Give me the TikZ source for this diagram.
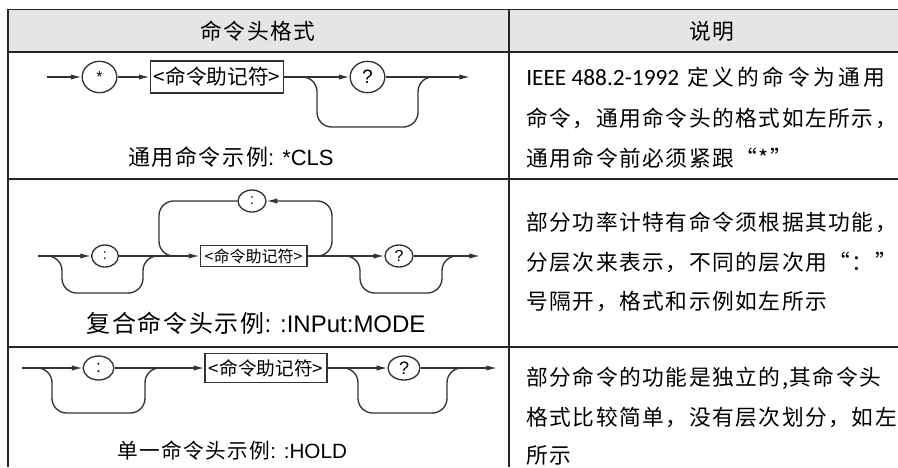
\documentclass[tikz,border=0pt]{standalone}
\usepackage{fontspec}
\setmainfont{Liberation Sans}
\newfontfamily\cjk{Noto Sans CJK SC}
\newfontfamily\cjkw[LetterSpace=7]{Noto Sans CJK SC}
\newfontfamily\carlito{Carlito}
\usetikzlibrary{arrows.meta,shapes.geometric}
\tikzset{
  rule/.style={draw=black!85, line width=1.1pt},
  wire/.style={draw=black!80, line width=1pt},
  flow/.style={wire, -{Latex[length=8pt,width=4pt]}},
  bypass/.style={wire, rounded corners=11pt},
  syn/.style={ellipse, draw=black!80, line width=1pt, inner sep=0pt},
  mnem/.style={rectangle, draw=black!80, line width=1pt, inner sep=1pt},
  head/.style={inner sep=0.75pt, font=\cjkw\fontsize{16.3}{18}\selectfont},
  desc/.style={anchor=west, inner sep=0.75pt, font=\cjkw\fontsize{16.3}{18}\selectfont},
}
\begin{document}
\begin{tikzpicture}[x=0.75pt,y=0.75pt,yscale=-1,xscale=1]
\useasboundingbox (0,0) rectangle (898,467);
\fill[black!10] (8,9.5) rectangle (898,52);
\draw[rule] (8,9.5) -- (898,9.5);
\draw[rule] (8,52) -- (898,52);
\draw[rule] (8,179) -- (898,179);
\draw[rule] (8,347) -- (898,347);
\draw[rule] (8,9.5) -- (8,467);
\draw[rule] (509,9.5) -- (509,467);
\node[head] (hfmt) at (258,31) {命令头格式};
\node[head] (hdesc) at (712,31) {说明};

\coordinate (s1) at (47,77);
\coordinate (e1) at (470,77);
\coordinate (b1a) at (302,77);
\coordinate (b1b) at (433,77);
\node[syn, minimum width=26pt, minimum height=23.5pt, font=\fontsize{12}{12}\selectfont] (star) at (99.5,77) {\raisebox{-3.5pt}{*}};
\node[mnem, minimum width=100pt, minimum height=24pt, font=\cjk\fontsize{15.5}{16}\selectfont] (m1) at (217,77) {<命令助记符>};
\node[syn, minimum width=26pt, minimum height=23.5pt, font=\fontsize{14.5}{15}\selectfont] (q1) at (367.5,77) {?};
\draw[flow] (s1) -- (star);
\draw[flow] (star) -- (m1);
\draw[flow] (m1) -- (q1);
\draw[flow] (q1) -- (e1);
\draw[bypass] (b1a) -| (317,127) -| (418,77) -- (b1b);
\node[inner sep=0.75pt, font=\fontsize{16.5}{18}\selectfont] (eg1) at (231,157) {{\cjkw 通用命令示例}: *CLS};

\coordinate (s2) at (38,256);
\coordinate (e2) at (480,256);
\coordinate (b2a) at (48,256);
\coordinate (b2b) at (157,256);
\coordinate (b2c) at (347,256);
\coordinate (b2d) at (456,256);
\coordinate (l2a) at (318,256);
\coordinate (l2b) at (173,256);
\node[syn, minimum width=20pt, minimum height=16.5pt, font=\fontsize{11}{11}\selectfont] (c2) at (105,256) {:};
\node[mnem, minimum width=80pt, minimum height=16pt, font=\cjk\fontsize{12}{12}\selectfont] (m2) at (253.5,256) {<命令助记符>};
\node[syn, minimum width=21pt, minimum height=16.5pt, font=\fontsize{11}{11}\selectfont] (c2t) at (252,201) {:};
\node[syn, minimum width=21pt, minimum height=16.5pt, font=\fontsize{12}{12}\selectfont] (q2) at (399,256) {?};
\draw[flow] (s2) -- (c2);
\draw[flow] (c2) -- (m2);
\draw[flow] (m2) -- (q2);
\draw[flow] (q2) -- (e2);
\draw[bypass] (b2a) -| (62,293) -| (143,256) -- (b2b);
\draw[bypass] (b2c) -| (360,293) -| (442,256) -- (b2d);
\draw[flow, rounded corners=11pt] (l2a) -| (332,201) -- (c2t.east);
\draw[bypass] (c2t.west) -| (159,256) -- (l2b);
\node[inner sep=0.75pt, font=\fontsize{18}{20}\selectfont] (eg2) at (256,323) {{\cjkw 复合命令头示例}: :INPut:MODE};

\coordinate (s3) at (22,368);
\coordinate (e3) at (497,368);
\coordinate (b3a) at (37,368);
\coordinate (b3b) at (160,368);
\coordinate (b3c) at (345,368);
\coordinate (b3d) at (461,368);
\node[syn, minimum width=23pt, minimum height=18pt, font=\fontsize{13}{13}\selectfont] (c3) at (98.5,368) {:};
\node[mnem, minimum width=91.5pt, minimum height=21.75pt, font=\cjk\fontsize{14}{14}\selectfont] (m3) at (266,368) {<命令助记符>};
\node[syn, minimum width=24pt, minimum height=18pt, font=\fontsize{13.5}{14}\selectfont] (q3) at (404,368) {?};
\draw[flow] (s3) -- (c3);
\draw[flow] (c3) -- (m3);
\draw[flow] (m3) -- (q3);
\draw[flow] (q3) -- (e3);
\draw[bypass] (b3a) -| (52,413) -| (145,368) -- (b3b);
\draw[bypass] (b3c) -| (358,413) -| (447,368) -- (b3d);
\node[inner sep=0.75pt, font=\fontsize{15.5}{17}\selectfont] (eg3) at (232,451) {{\cjkw 单一命令头示例}: :HOLD};

\node[desc] (d11) at (525,77) {{\carlito\fontsize{17.5}{18}\selectfont IEEE 488.2-1992}\hspace{6pt}{\addfontfeature{LetterSpace=16}定义的命令为通用}};
\node[desc] (d12) at (525,118) {命令，通用命令头的格式如左所示，};
\node[desc] (d13) at (525,158) {通用命令前必须紧跟“*”};
\node[desc] (d21) at (525,222) {部分功率计特有命令须根据其功能，};
\node[desc] (d22) at (525,262) {分层次来表示，不同的层次用“：”};
\node[desc] (d23) at (525,302) {号隔开，格式和示例如左所示};
\node[desc] (d31) at (525,378) {部分命令的功能是独立的,其命令头};
\node[desc] (d32) at (525,417) {格式比较简单，没有层次划分，如左};
\node[desc] (d33) at (525,455) {所示};
\end{tikzpicture}
\end{document}
